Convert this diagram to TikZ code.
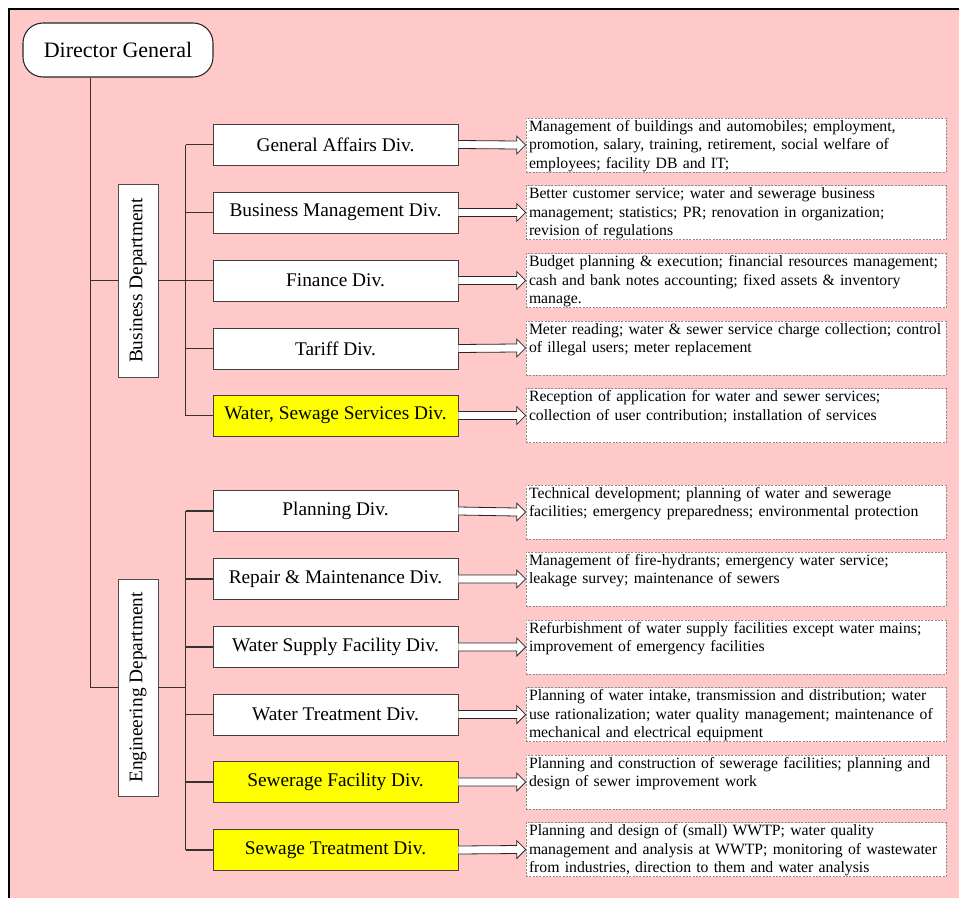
\documentclass[tikz,border=0pt]{standalone}
\usepackage{fontspec}
\setmainfont{Liberation Serif}
\usetikzlibrary{calc, positioning}

\definecolor{bgpink}{RGB}{255,201,201}
\definecolor{hilite}{RGB}{255,255,0}

\hyphenpenalty=10000
\exhyphenpenalty=10000

% hollow block arrow from a division to its duty box
\newcommand{\hollowarrow}[2]{%
    \draw[hollow] ($(#1.east)+(0,-4)$) -- ($(#2.west)+(-9,-4)$)
        -- ($(#2.west)+(-9,-9)$) -- (#2.west) -- ($(#2.west)+(-9,9)$)
        -- ($(#2.west)+(-9,4)$) -- ($(#1.east)+(0,4)$);}

\begin{document}
\begin{tikzpicture}[
        x=0.75pt, y=-0.75pt,
        line join=miter,
        head/.style={
            draw=black!85,
            fill=white,
            line width=0.8pt,
            rounded corners=15pt,
            minimum width=142.5pt,
            minimum height=40.5pt,
            font=\fontsize{16.5}{19}\selectfont
        },
        dept/.style={
            draw=black!70,
            fill=white,
            line width=0.7pt,
            minimum width=30pt,
            inner sep=0pt,
            font=\fontsize{14.5}{17}\selectfont
        },
        div/.style={
            draw=black!75,
            fill=white,
            line width=0.7pt,
            minimum width=183.75pt,
            minimum height=30.75pt,
            inner sep=0pt,
            font=\fontsize{14.5}{17}\selectfont
        },
        hot/.style={div, fill=hilite},
        duty/.style={
            draw=black!45,
            dash pattern=on 1.5pt off 1pt,
            line width=0.5pt,
            fill=white,
            align=left,
            text width=310.5pt,
            inner xsep=2.25pt,
            inner ysep=0.5pt,
            text height=9.25pt,
            text depth=30.25pt,
            font=\fontsize{11.8}{13.9}\selectfont
        },
        link/.style={draw=black!80, line width=0.8pt},
        hollow/.style={draw=black!85, fill=white, line width=0.6pt}
    ]

    \useasboundingbox (0,0) rectangle (959,899);

    % Background
    \fill[bgpink] (9,9) rectangle (959,898);
    \draw[line width=1.1pt] (959,9) -- (9,9) -- (9,898);

    % Director
    \node[head] (dg) at (118,50) {Director General};

    % Departments
    \node[dept, minimum height=144.75pt] (bus) at (138,280.5)
        {\rotatebox{90}{Business Department}};
    \node[dept, minimum height=162.75pt] (eng) at (138,687.5)
        {\rotatebox{90}{Engineering Department}};

    % Divisions of the business department
    \node[div] (ga)  at (335.5,144.5) {General Affairs Div.};
    \node[div] (bm)  at (335.5,212.5) {Business Management Div.};
    \node[div] (fin) at (335.5,280.5) {Finance Div.};
    \node[div] (tar) at (335.5,348.5) {Tariff Div.};
    \node[hot] (wss) at (335.5,415.5) {Water, Sewage Services Div.};

    % Divisions of the engineering department
    \node[div] (pln) at (335.5,511) {Planning Div.};
    \node[div] (rep) at (335.5,579) {Repair \& Maintenance Div.};
    \node[div] (wsf) at (335.5,647) {Water Supply Facility Div.};
    \node[div] (wtr) at (335.5,714.5) {Water Treatment Div.};
    \node[hot] (sfd) at (335.5,782) {Sewerage Facility Div.};
    \node[hot] (std) at (335.5,850) {Sewage Treatment Div.};

    % Duties
    \node[duty] (ga-d) at (736,145) {
        Management of buildings and automobiles; employment,\\
        promotion, salary, training, retirement, social welfare of\\
        employees; facility DB and IT;
    };
    \node[duty] (bm-d) at (736,212.5) {
        Better customer service; water and sewerage business\\
        management; statistics; PR; renovation in organization;\\
        revision of regulations
    };
    \node[duty] (fin-d) at (736,280.5) {
        Budget planning \& execution; financial resources management;\\
        cash and bank notes accounting; fixed assets \& inventory\\
        manage.
    };
    \node[duty] (tar-d) at (736,348) {
        Meter reading; water \& sewer service charge collection; control\\
        of illegal users; meter replacement
    };
    \node[duty] (wss-d) at (736,415.5) {
        Reception of application for water and sewer services;\\
        collection of user contribution; installation of services
    };
    \node[duty] (pln-d) at (736,512) {
        Technical development; planning of water and sewerage\\
        facilities; emergency preparedness; environmental protection
    };
    \node[duty] (rep-d) at (736,579) {
        Management of fire-hydrants; emergency water service;\\
        leakage survey; maintenance of sewers
    };
    \node[duty] (wsf-d) at (736,647) {
        Refurbishment of water supply facilities except water mains;\\
        improvement of emergency facilities
    };
    \node[duty] (wtr-d) at (736,714.5) {
        Planning of water intake, transmission and distribution; water\\
        use rationalization; water quality management; maintenance of\\
        mechanical and electrical equipment
    };
    \node[duty] (sfd-d) at (736,782) {
        Planning and construction of sewerage facilities; planning and\\
        design of sewer improvement work
    };
    \node[duty] (std-d) at (736,849.5) {
        Planning and design of (small) WWTP; water quality\\
        management and analysis at WWTP; monitoring of wastewater\\
        from industries, direction to them and water analysis
    };

    % Lines
    \coordinate (trunk) at ($(dg.south west)!0.358!(dg.south east)$);
    \draw[link] (trunk) |- (eng.west);
    \draw[link] (trunk |- bus.west) -- (bus.west);

    \draw[link] (bus.east) -- ++(28,0);
    \draw[link] (eng.east) -- ++(28,0);

    \foreach \d in {ga,bm,fin,tar,wss,pln,rep,wsf,wtr,sfd,std}
        \draw[link] (\d.west) -- ++(-27,0);

    \draw[link] ($(ga.west)+(-27,0)$) -- ($(wss.west)+(-27,0)$);
    \draw[link] ($(pln.west)+(-27,0)$) -- ($(std.west)+(-27,0)$);

    % Arrows
    \foreach \d in {ga,bm,fin,tar,wss,pln,rep,wsf,wtr,sfd,std}
        \hollowarrow{\d}{\d-d};

\end{tikzpicture}
\end{document}
